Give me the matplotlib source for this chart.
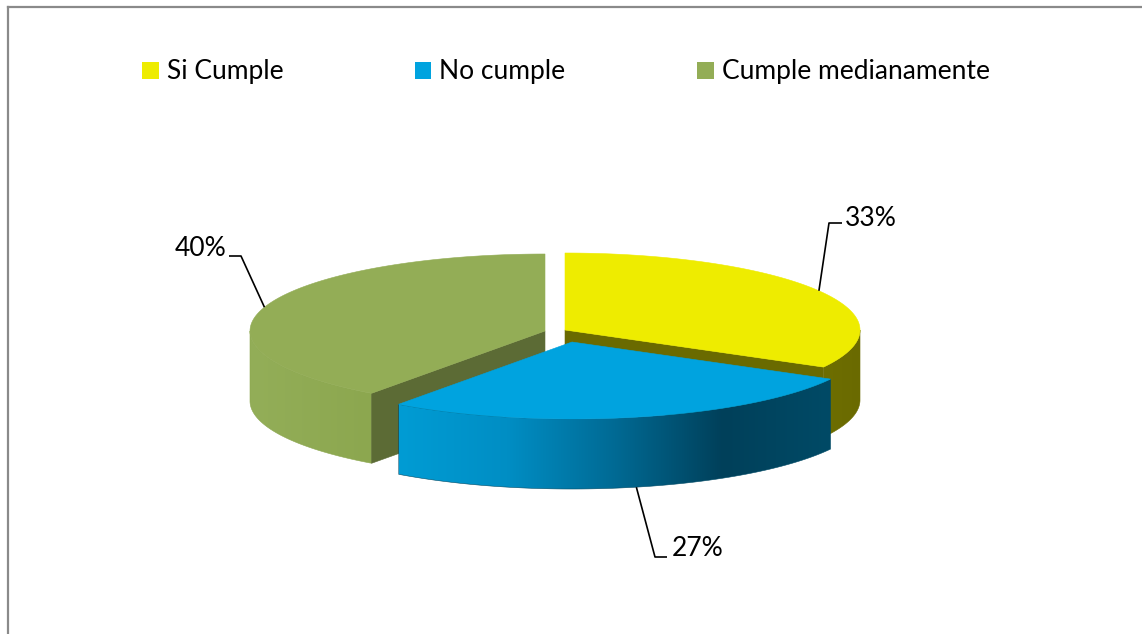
import numpy as np
import matplotlib.pyplot as plt
from matplotlib.patches import Polygon, Patch
from matplotlib.colors import LinearSegmentedColormap

labels = ["Si Cumple", "No cumple", "Cumple medianamente"]
values = [33, 27, 40]

top_colors = ["#EEEC00", "#00A3DF", "#93AD56"]
wall_colors = [["#6E6E00", "#6A6A00"],
               ["#009CD4", "#008EC4", "#006A94", "#00405A", "#004A66"],
               ["#93AE58", "#8CA74F"]]
cut_colors = ["#6A6A00", "#00405A", "#5C6B35"]

# pie geometry in pixel coordinates (y grows downward)
CX, CY = 556, 334
RX, RY = 295, 77
DEPTH = 70
offsets = [(9, -4), (16, 8), (-11, -3)]

# label text anchor, elbow of leader line, end of short horizontal stub
label_pos = [(845, 218, "left"), (672, 548, "left"), (226, 249, "right")]
elbow_pos = [(829, 223), (655, 557), (241, 256)]
stub = [(842, 223), (667, 557), (229, 256)]

plt.rcParams["font.family"] = ["Lato", "DejaVu Sans"]

W, H = 1142, 634
fig = plt.figure(figsize=(W / 100, H / 100), dpi=100)
ax = fig.add_axes([0, 0, 1, 1])
ax.set_axis_off()


def arc(cx, cy, t0, t1, dy=0.0, n=160):
    t = np.linspace(t0, t1, n)
    return np.column_stack([cx + RX * np.sin(t), cy - RY * np.cos(t) + dy])


def gradient_fill(poly_xy, colors, z):
    cmap = LinearSegmentedColormap.from_list("g", colors)
    x0, x1 = poly_xy[:, 0].min(), poly_xy[:, 0].max()
    y0, y1 = poly_xy[:, 1].min(), poly_xy[:, 1].max()
    grad = np.linspace(0, 1, 256)[None, :]
    im = ax.imshow(grad, cmap=cmap, extent=(x0, x1, y1, y0), aspect="auto",
                   interpolation="bilinear", zorder=z)
    clip = Polygon(poly_xy, closed=True, transform=ax.transData)
    im.set_clip_path(clip)
    ax.add_patch(Polygon(poly_xy, closed=True, facecolor="none",
                         edgecolor=colors[-1], linewidth=0.4, zorder=z))


fracs = np.array(values) / sum(values)
ends = np.cumsum(fracs) * 2 * np.pi
starts = ends - fracs * 2 * np.pi
mids = (starts + ends) / 2

# paint from back to front
order = np.argsort(-np.cos(mids))
for rank, i in enumerate(order):
    z = 2 + rank * 3
    cx, cy = CX + offsets[i][0], CY + offsets[i][1]
    t1, t2 = starts[i], ends[i]

    w0, w1 = max(t1, np.pi / 2), min(t2, 1.5 * np.pi)
    if w1 > w0:
        wall = np.vstack([arc(cx, cy, w0, w1), arc(cx, cy, w1, w0, dy=DEPTH)])
        gradient_fill(wall, wall_colors[i], z)

    for t, visible in ((t2, np.sin(t2) > 1e-6), (t1, -np.sin(t1) > 1e-6)):
        if visible:
            ex, ey = cx + RX * np.sin(t), cy - RY * np.cos(t)
            face = [(cx, cy), (ex, ey), (ex, ey + DEPTH), (cx, cy + DEPTH)]
            ax.add_patch(Polygon(face, closed=True, facecolor=cut_colors[i],
                                 edgecolor=cut_colors[i], linewidth=0.4, zorder=z))

    top = np.vstack([[cx, cy], arc(cx, cy, t1, t2), [cx, cy]])
    ax.add_patch(Polygon(top, closed=True, facecolor=top_colors[i],
                         edgecolor=top_colors[i], linewidth=0.4, zorder=z + 1))

# percentage labels with leader lines
for i, v in enumerate(values):
    cx, cy = CX + offsets[i][0], CY + offsets[i][1]
    m = mids[i]
    px, py = cx + RX * np.sin(m), cy - RY * np.cos(m)
    if np.cos(m) < 0:
        py += DEPTH
    ax.plot([px, elbow_pos[i][0], stub[i][0]], [py, elbow_pos[i][1], stub[i][1]],
            color="black", linewidth=1.2, zorder=20, solid_capstyle="butt")
    tx, ty, ha = label_pos[i]
    ax.text(tx, ty, f"{v}%", ha=ha, va="center", fontsize=19, color="black", zorder=21)

# chart frame
ax.plot([8, W], [7, 7], color="#8A8A8A", linewidth=1.6, zorder=1)
ax.plot([8, 8], [7, H], color="#8A8A8A", linewidth=1.6, zorder=1)

handles = [Patch(facecolor=c, edgecolor="none") for c in top_colors]
ax.legend(handles, labels, loc="center", bbox_to_anchor=(566 / W, 1 - 72 / H),
          ncol=3, frameon=False, fontsize=19, handlelength=0.62, handleheight=0.62,
          handletextpad=0.3, columnspacing=5.0, borderpad=0)

ax.set_xlim(0, W)
ax.set_ylim(H, 0)
fig.savefig("out.png", dpi=100)
